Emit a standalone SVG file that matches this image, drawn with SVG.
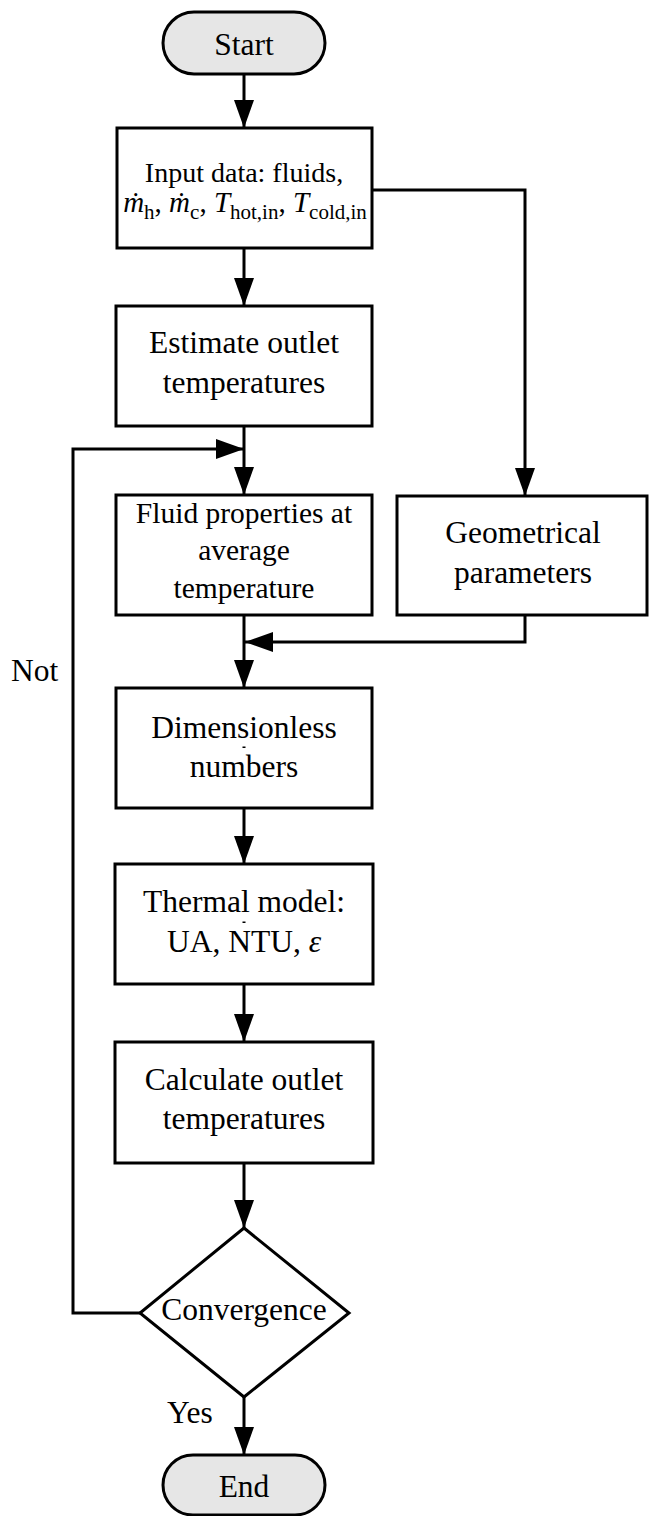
<svg xmlns="http://www.w3.org/2000/svg" width="649" height="1516" viewBox="0 0 649 1516">
<style>
  .box { fill: #ffffff; stroke: #000000; stroke-width: 3; }
  .term { fill: #e6e6e6; stroke: #000000; stroke-width: 3; }
  .t { font-family: "Liberation Serif", "Times New Roman", serif; font-size: 31.5px; fill: #000000; text-anchor: middle; }
  .lbl { font-family: "Liberation Serif", "Times New Roman", serif; font-size: 31.5px; fill: #000000; }
  .conn { fill: none; stroke: #000000; stroke-width: 3; }
</style>
<defs>
  <marker id="arrow" markerUnits="userSpaceOnUse" markerWidth="28" markerHeight="20" refX="28" refY="10" orient="auto">
    <path d="M0,0 L28,10 L0,20 Z" fill="#000000"/>
  </marker>
</defs>
<rect width="649" height="1516" fill="#ffffff"/>

<g id="connectors">
  <path class="conn" d="M244,74 V128" marker-end="url(#arrow)"/>
  <path class="conn" d="M244,248 V306" marker-end="url(#arrow)"/>
  <path class="conn" d="M372,190 H525 V496" marker-end="url(#arrow)"/>
  <path class="conn" d="M244,426 V495" marker-end="url(#arrow)"/>
  <path class="conn" d="M140,1313 H73 V449 H244" marker-end="url(#arrow)"/>
  <path class="conn" d="M244,615 V688" marker-end="url(#arrow)"/>
  <path class="conn" d="M525,615 V642 H245" marker-end="url(#arrow)"/>
  <path class="conn" d="M244,808 V864" marker-end="url(#arrow)"/>
  <path class="conn" d="M244,984 V1042" marker-end="url(#arrow)"/>
  <path class="conn" d="M244,1163 V1228" marker-end="url(#arrow)"/>
  <path class="conn" d="M244,1397 V1455" marker-end="url(#arrow)"/>
  <text class="lbl" x="11" y="681">Not</text>
  <text class="lbl" x="167" y="1423">Yes</text>
</g>

<g id="start">
  <rect class="term" x="163" y="12" width="162" height="62" rx="31" ry="31"/>
  <text class="t" x="244" y="55">Start</text>
</g>

<g id="input">
  <rect class="box" x="117" y="128" width="255" height="120"/>
  <text class="t" x="244" y="182" style="font-size:28px">Input data: fluids,</text>
  <text class="t" x="245" y="212" style="font-size:29px"><tspan font-style="italic">ṁ</tspan><tspan font-size="21" dy="7">h</tspan><tspan dy="-7">, </tspan><tspan font-style="italic">ṁ</tspan><tspan font-size="21" dy="7">c</tspan><tspan dy="-7">, </tspan><tspan font-style="italic">T</tspan><tspan font-size="21" dy="7">hot,in</tspan><tspan dy="-7">, </tspan><tspan font-style="italic">T</tspan><tspan font-size="21" dy="7">cold,in</tspan></text>
</g>

<g id="estimate">
  <rect class="box" x="116" y="306" width="256" height="120"/>
  <text class="t" x="244" y="353">Estimate outlet</text>
  <text class="t" x="244" y="393">temperatures</text>
</g>

<g id="fluid">
  <rect class="box" x="116" y="495" width="256" height="120"/>
  <text class="t" x="244" y="523" style="font-size:29.5px">Fluid properties at</text>
  <text class="t" x="244" y="560" style="font-size:29.5px">average</text>
  <text class="t" x="244" y="598" style="font-size:29.5px">temperature</text>
</g>

<g id="geometrical">
  <rect class="box" x="397" y="496" width="250" height="119"/>
  <text class="t" x="523" y="543">Geometrical</text>
  <text class="t" x="523" y="583">parameters</text>
</g>

<g id="dimensionless">
  <rect class="box" x="116" y="688" width="256" height="120"/>
  <text class="t" x="244" y="738">Dimensionless</text>
  <text class="t" x="244" y="777">numbers</text>
  <rect x="242.5" y="746.5" width="3" height="1.5" fill="#000000"/>
</g>

<g id="thermal">
  <rect class="box" x="115" y="864" width="258" height="120"/>
  <text class="t" x="244" y="912">Thermal model:</text>
  <text class="t" x="244" y="952">UA, NTU, <tspan font-style="italic">ε</tspan></text>
  <rect x="242.5" y="921.5" width="3" height="1.5" fill="#000000"/>
</g>

<g id="calculate">
  <rect class="box" x="115" y="1042" width="258" height="121"/>
  <text class="t" x="244" y="1090">Calculate outlet</text>
  <text class="t" x="244" y="1129">temperatures</text>
</g>

<g id="convergence">
  <polygon class="box" points="244,1228 349,1313 244,1397 140,1313"/>
  <text class="t" x="244" y="1320">Convergence</text>
</g>

<g id="end">
  <rect class="term" x="163" y="1455" width="162" height="60" rx="30" ry="30"/>
  <text class="t" x="244" y="1497">End</text>
</g>
</svg>
